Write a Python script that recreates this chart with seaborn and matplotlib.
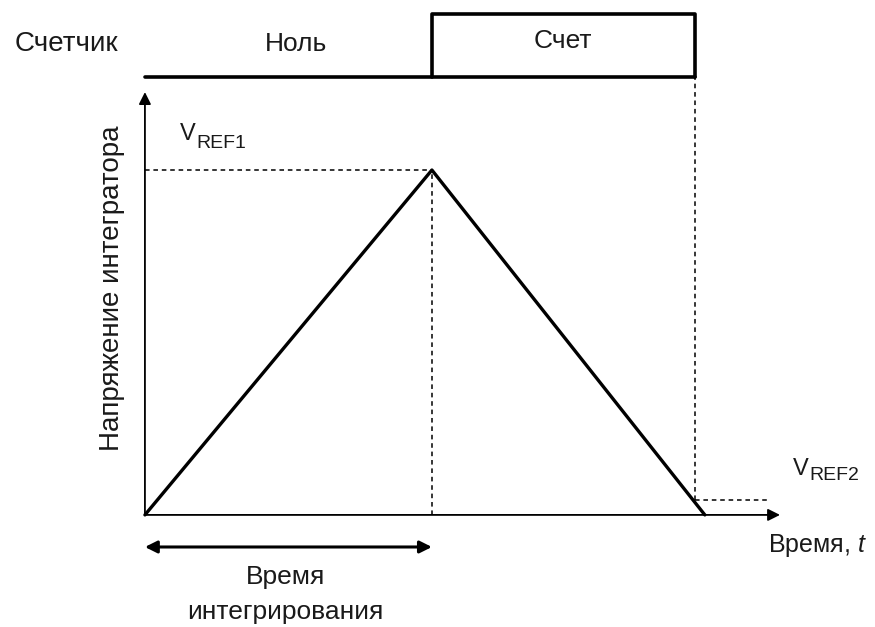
import matplotlib
matplotlib.use("Agg")
import matplotlib.pyplot as plt
import seaborn as sns
import pandas as pd

# dual-slope integrator timing diagram
# time in units of the integration time, voltage in units of V_REF1
ramp_t = [0.0, 1.0, 1.951]
ramp_v = [0.0, 1.0, 0.0]

t_int = 1.0          # end of integration (Ноль -> Счет)
t_count_end = 1.916  # counter stops
v_ref2 = 0.043

counter_base = 1.27
counter_top = 1.452

counter_labels = ["Счетчик", "Ноль", "Счет"]
axis_labels = ["Напряжение интегратора", "Время, $t$"]
int_label = ["Время", "интегрирования"]

sns.set_theme(style="white")
plt.rcParams["font.family"] = ["Liberation Sans", "DejaVu Sans"]
plt.rcParams["mathtext.fontset"] = "custom"
plt.rcParams["mathtext.it"] = "Liberation Sans:italic"
plt.rcParams["mathtext.rm"] = "Liberation Sans"

fig = plt.figure(figsize=(8.75, 6.27), dpi=100)
ax = fig.add_axes([0, 0, 1, 1])
ax.set_xlim(-0.505, 2.544)
ax.set_ylim(-0.325, 1.493)
ax.axis("off")

df = pd.DataFrame({"t": ramp_t, "v": ramp_v})
sns.lineplot(data=df, x="t", y="v", color="black", linewidth=2.4, ax=ax)

# axes with arrows
ax.annotate("", xy=(2.213, 0), xytext=(0, 0),
            arrowprops=dict(arrowstyle="-|>", color="black", lw=1.3,
                            mutation_scale=18, shrinkA=0, shrinkB=0))
ax.annotate("", xy=(0, 1.226), xytext=(0, 0),
            arrowprops=dict(arrowstyle="-|>", color="black", lw=1.3,
                            mutation_scale=18, shrinkA=0, shrinkB=0))

# dashed guides
dash = dict(color="black", linestyle=(0, (3, 2.5)), linewidth=1.1)
ax.plot([0, t_int], [1, 1], **dash)
ax.plot([t_int, t_int], [0, 1], **dash)
ax.plot([t_count_end, t_count_end], [v_ref2, counter_base], **dash)
ax.plot([t_count_end, 2.178], [v_ref2, v_ref2], **dash)

# counter state line
ax.plot([0, t_count_end], [counter_base, counter_base], color="black", linewidth=2.6)
ax.plot([t_int, t_int, t_count_end, t_count_end],
        [counter_base, counter_top, counter_top, counter_base],
        color="black", linewidth=2.6)

tc = "#1a1a1a"
ax.text(-0.272, 1.365, counter_labels[0], fontsize=20, color=tc,
        ha="center", va="center")
ax.text(0.526, 1.365, counter_labels[1], fontsize=19, color=tc,
        ha="center", va="center")
ax.text((t_int + t_count_end) / 2, 1.374, counter_labels[2], fontsize=19,
        color=tc, ha="center", va="center")

# V_REF labels: big V, lowered subscript
ax.text(0.122, 1.104, "V", fontsize=17, color=tc, ha="left", va="center")
ax.text(0.181, 1.078, "REF1", fontsize=14, color=tc, ha="left", va="center")
ax.text(2.258, 0.133, "V", fontsize=17, color=tc, ha="left", va="center")
ax.text(2.317, 0.113, "REF2", fontsize=14, color=tc, ha="left", va="center")

ax.text(-0.115, 0.658, axis_labels[0], fontsize=20, color=tc, rotation=90,
        ha="center", va="center")
ax.text(2.171, -0.090, axis_labels[1], fontsize=18, color=tc,
        ha="left", va="center")

# integration time span
ax.annotate("", xy=(0, -0.093), xytext=(t_int, -0.093),
            arrowprops=dict(arrowstyle="<|-|>", color="black", lw=2.2,
                            mutation_scale=18, shrinkA=0, shrinkB=0))
ax.text(0.49, -0.180, int_label[0], fontsize=19, color=tc,
        ha="center", va="center")
ax.text(0.49, -0.281, int_label[1], fontsize=19, color=tc,
        ha="center", va="center")

fig.savefig("out.png", dpi=100)
